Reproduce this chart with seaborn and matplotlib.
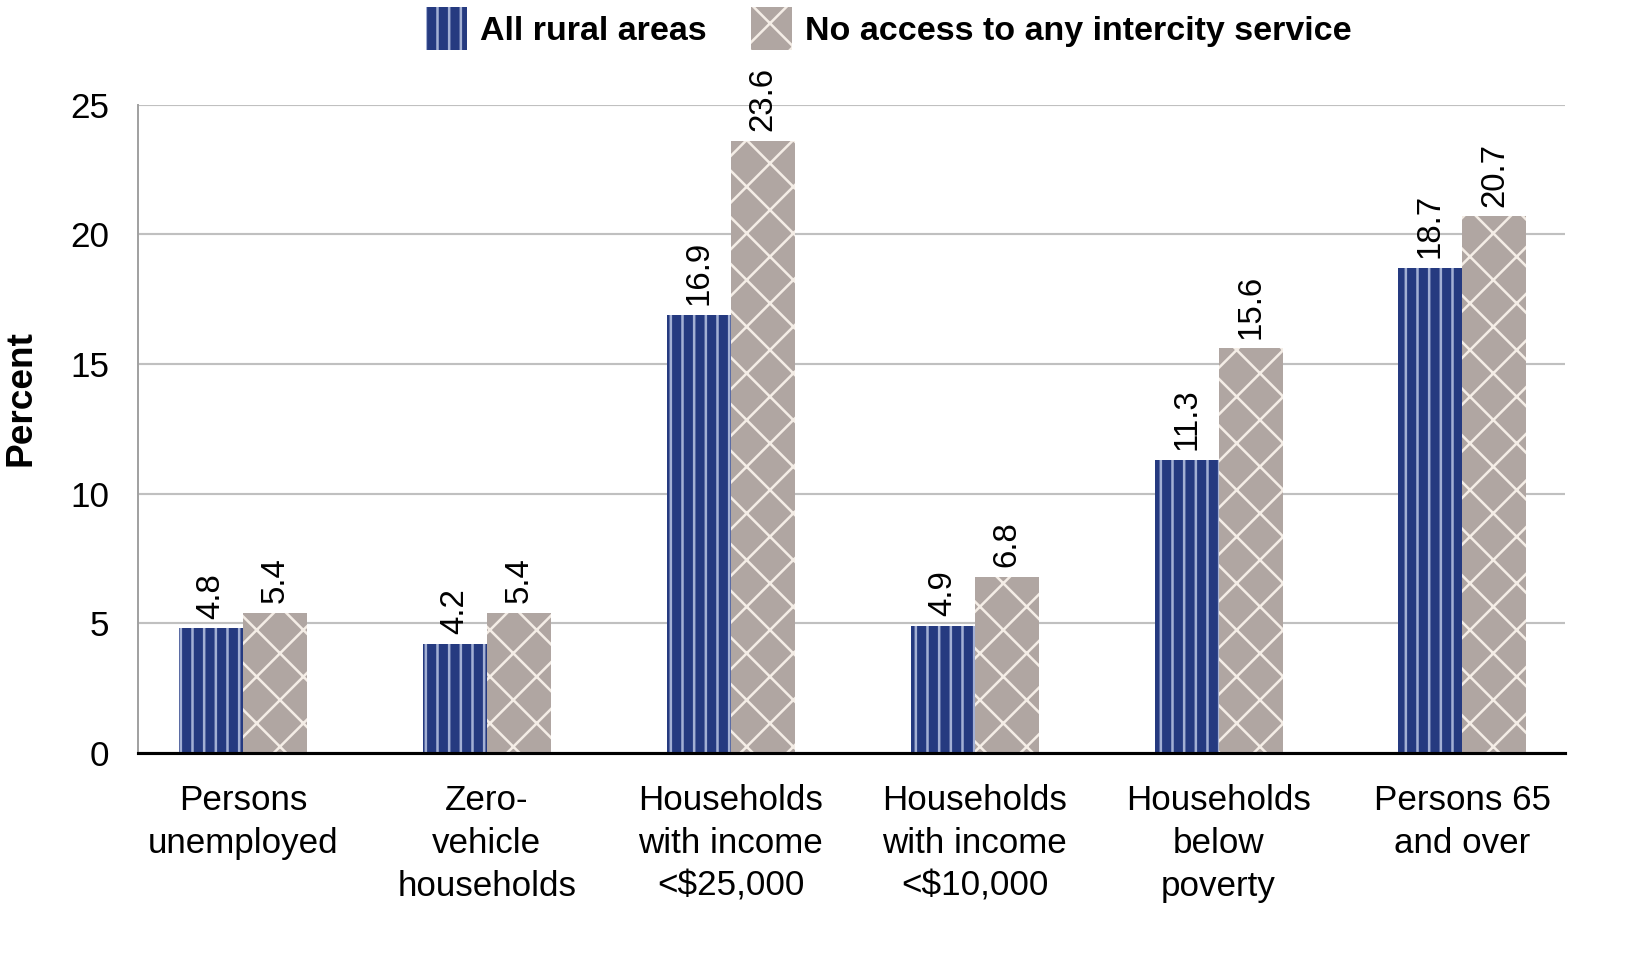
import numpy as np
import pandas as pd
import matplotlib
matplotlib.use("Agg")
import matplotlib.pyplot as plt
import seaborn as sns

categories = ["Persons\nunemployed", "Zero-\nvehicle\nhouseholds",
              "Households\nwith income\n<$25,000", "Households\nwith income\n<$10,000",
              "Households\nbelow\npoverty", "Persons 65\nand over"]
series = ["All rural areas", "No access to any intercity service"]
rural = [4.8, 4.2, 16.9, 4.9, 11.3, 18.7]
no_access = [5.4, 5.4, 23.6, 6.8, 15.6, 20.7]

df = pd.DataFrame({
    "cat": categories * 2,
    "series": [series[0]] * 6 + [series[1]] * 6,
    "value": rural + no_access,
})

sns.set_style("white")
plt.rcParams["font.family"] = ["Liberation Sans", "DejaVu Sans"]
plt.rcParams["text.color"] = "black"
plt.rcParams["xtick.color"] = "black"
plt.rcParams["ytick.color"] = "black"
plt.rcParams["axes.labelcolor"] = "black"
plt.rcParams["hatch.linewidth"] = 1.3

fill = {series[0]: "#253a80", series[1]: "#b0a6a2"}
hcol = {series[0]: "#a3b0d4", series[1]: "#f4ede6"}
hatch = {series[0]: "||", series[1]: "x"}

fig = plt.figure(figsize=(1625 / 140, 956 / 140), dpi=140)
ax = fig.add_axes([0.085, 0.2124, 0.878, 0.678])

sns.barplot(data=df, x="cat", y="value", hue="series", palette=fill,
            width=0.525, gap=0, saturation=1, ax=ax, legend=False)

for cont, s in zip(ax.containers, series):
    for p in cont:
        p.set_hatch(hatch[s])
        p.set_edgecolor(hcol[s])
        p.set_linewidth(0)
    ax.bar_label(cont, labels=[f"{v:.1f}" for v in cont.datavalues],
                 rotation=90, padding=5, fontsize=17)

ax.set_ylim(0, 25)
ax.set_xlim(-0.43, 5.42)
ax.set_yticks([0, 5, 10, 15, 20, 25])
ax.yaxis.grid(True, color="#c0c0c0", linewidth=1.1)
ax.set_axisbelow(True)
ax.tick_params(axis="y", labelsize=18, length=0, pad=15)
ax.tick_params(axis="x", labelsize=18, length=0, pad=16)
ax.set_xlabel("")
ax.set_ylabel("Percent", fontsize=19, fontweight="bold")
ax.yaxis.set_label_coords(-0.07, 0.548)
for lbl in ax.get_xticklabels():
    lbl.set_linespacing(1.38)

for side in ["top", "right"]:
    ax.spines[side].set_visible(False)
ax.spines["left"].set_color("#a0a0a0")
ax.spines["left"].set_linewidth(1.0)
ax.spines["bottom"].set_color("black")
ax.spines["bottom"].set_linewidth(1.6)

handles = [plt.Rectangle((0, 0), 1, 1, facecolor=fill[s], edgecolor=hcol[s],
                         hatch=hatch[s], linewidth=0) for s in series]
fig.legend(handles, series, loc="upper center", bbox_to_anchor=(0.547, 1.025),
           ncol=2, frameon=False, prop={"size": 17.5, "weight": "bold"},
           handlelength=1.2, handleheight=1.6, columnspacing=1.3, handletextpad=0.4)

fig.savefig("out.png", dpi=140)
